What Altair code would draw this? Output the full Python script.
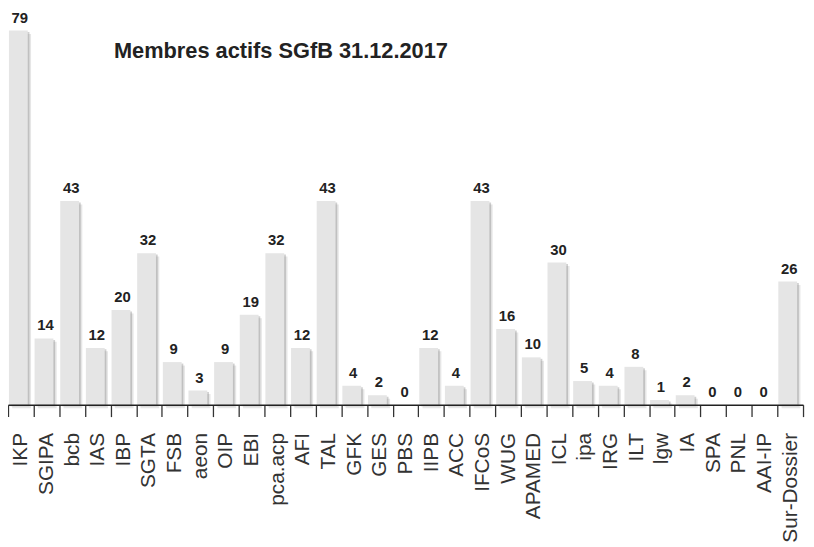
import altair as alt
import pandas as pd

categories = ["IKP", "SGIPA", "bcb", "IAS", "IBP", "SGTA", "FSB", "aeon", "OIP", "EBI",
              "pca.acp", "AFI", "TAL", "GFK", "GES", "PBS", "IIPB", "ACC", "IFCoS", "WUG",
              "APAMED", "ICL", "ipa", "IRG", "ILT", "lgw", "IA", "SPA", "PNL", "AAI-IP",
              "Sur-Dossier"]
members = [79, 14, 43, 12, 20, 32, 9, 3, 9, 19,
           32, 12, 43, 4, 2, 0, 12, 4, 43, 16,
           10, 30, 5, 4, 8, 1, 2, 0, 0, 0,
           26]
title_text = ["Membres actifs SGfB 31.12.2017"]

df = pd.DataFrame({"cat": categories, "val": members})
tdf = pd.DataFrame({"t": title_text})

FONT = "Liberation Sans"

x_enc = alt.X(
    "cat:N",
    sort=categories,
    scale=alt.Scale(paddingInner=0, paddingOuter=0),
    axis=alt.Axis(
        title=None,
        labelAngle=-90,
        labelFontSize=21,
        labelFont=FONT,
        labelColor="#333333",
        labelPadding=16,
        labelLimit=300,
        tickBand="extent",
        tickSize=12,
        tickWidth=1.3,
        tickColor="#333333",
        domainColor="#222222",
        domainWidth=1.5,
        grid=False,
        zindex=1,
    ),
)
y_enc = alt.Y("val:Q", scale=alt.Scale(domain=[0, 79], nice=False), axis=None)

base = alt.Chart(df).encode(x=x_enc, y=y_enc)

shadow_outer = base.transform_filter("datum.val > 0").mark_bar(
    size=19, xOffset=0.8, yOffset=3.5, y2Offset=6, color="#9a9a9a", opacity=0.25
)
shadow_inner = base.transform_filter("datum.val > 0").mark_bar(
    size=19, xOffset=-0.8, yOffset=1.5, y2Offset=3, color="#777777", opacity=0.35
)
bars = base.mark_bar(size=19, xOffset=-2.5, color="#e5e5e5")
labels = base.mark_text(
    dy=-8, dx=-1, baseline="alphabetic", fontSize=15, fontWeight="bold",
    font=FONT, color="#222222"
).encode(text="val:Q")

title = alt.Chart(tdf).mark_text(
    align="left", baseline="alphabetic", fontSize=22, fontWeight="bold",
    font=FONT, color="#222222"
).encode(text="t:N", x=alt.value(107), y=alt.value(28))

chart = alt.layer(shadow_outer, shadow_inner, bars, labels, title).properties(
    width=803,
    height=378,
    autosize=alt.AutoSizeParams(type="none"),
    padding={"left": 0, "top": 20, "right": 3, "bottom": 141},
).configure(font=FONT).configure_view(stroke=None, strokeWidth=0)

chart.save("out.html", embed_options={"renderer": "svg", "actions": False})
